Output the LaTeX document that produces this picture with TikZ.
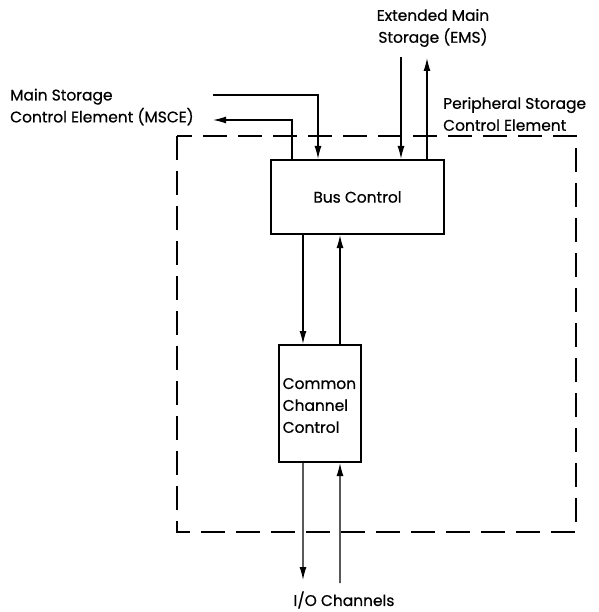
\documentclass[tikz,border=0pt]{standalone}
\usepackage{fontspec}
\setmainfont{Poppins}[FakeBold=0.6]
\usetikzlibrary{arrows.meta}

\begin{document}
\begin{tikzpicture}[x=1bp,y=-1bp]
\tikzset{BlockStyle/.style = {draw, line width=2bp, inner sep=0pt},
  LabelStyle/.style = {font=\fontsize{15.5}{22}\selectfont, align=left, inner sep=0pt},
  FlowStyle/.style = {line width=1.3bp, -{Latex[length=13bp,width=7bp]}}}
\useasboundingbox (0,0) rectangle (599,612);

\draw[dashed, dash pattern=on 24bp off 11bp, line width=1.5bp] (177,136) rectangle (576,532);

\node[BlockStyle, minimum width=173bp, minimum height=74bp, LabelStyle] (bus) at (357.5,197) {Bus Control};
\node[BlockStyle, minimum width=82bp, minimum height=117bp] (ccc) at (319.5,403.5) {};
\node[LabelStyle, anchor=west] (ccctext) at ([xshift=5bp,yshift=-2bp]ccc.west) {Common\\Channel\\Control};

\node[LabelStyle, anchor=west] (msce) at (10,107) {Main Storage\\Control Element (MSCE)};
\node[LabelStyle, align=center] (ems) at (433,28) {Extended Main\\Storage (EMS)};
\node[LabelStyle, anchor=west] (psce) at (443,114) {Peripheral Storage\\Control Element};
\node[LabelStyle] (io) at (344,600) {I/O Channels};

\coordinate (msceIn) at (213,95); \coordinate (msceOut) at (213,120);
\coordinate (emsIn) at (401,57); \coordinate (emsOut) at (427,58);
\coordinate (ioOut) at (303,580); \coordinate (ioIn) at (340,583);

\draw[FlowStyle] (msceIn) -| ([xshift=48bp]bus.north west);
\draw[FlowStyle] ([xshift=22bp]bus.north west) |- (msceOut);
\draw[FlowStyle] (emsIn) -- (emsIn |- bus.north);
\draw[FlowStyle] (emsOut |- bus.north) -- (emsOut);
\draw[FlowStyle] ([xshift=-16.5bp]ccc.north |- bus.south) -- ([xshift=-16.5bp]ccc.north);
\draw[FlowStyle] ([xshift=20.5bp]ccc.north) -- ([xshift=20.5bp]ccc.north |- bus.south);
\draw[FlowStyle] ([xshift=-16.5bp]ccc.south) -- (ioOut);
\draw[FlowStyle] (ioIn) -- ([xshift=20.5bp]ccc.south);
\end{tikzpicture}
\end{document}
